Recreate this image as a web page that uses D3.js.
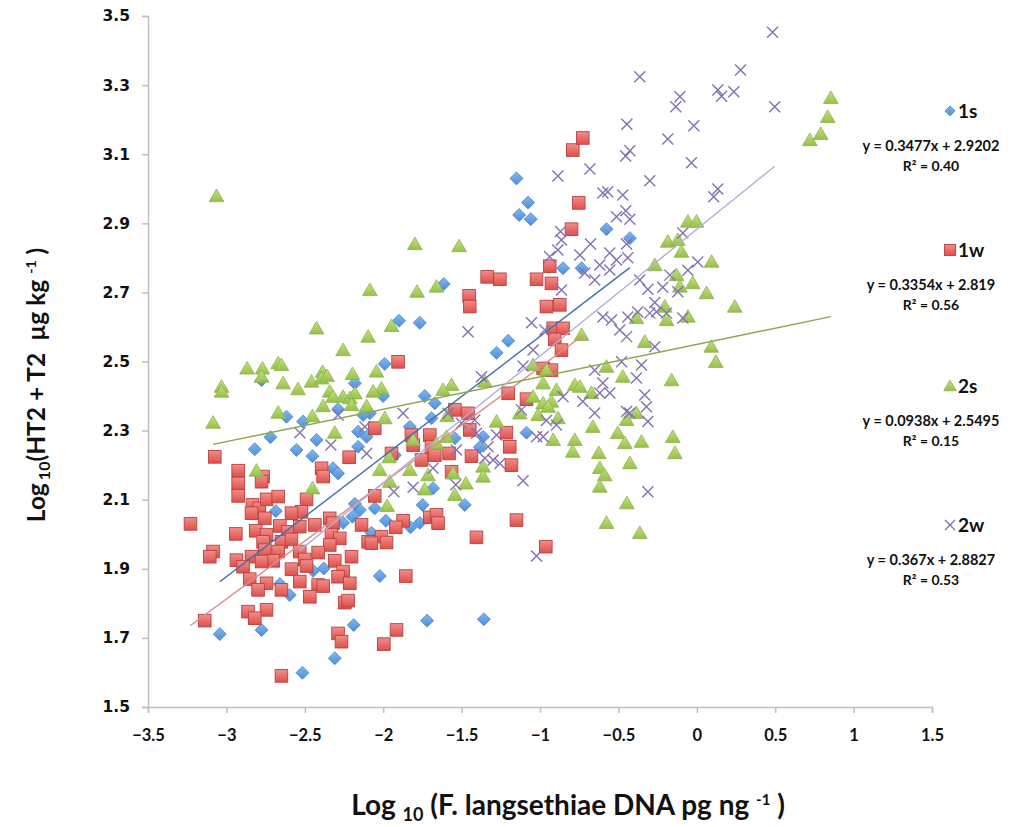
<!DOCTYPE html>
<html><head><meta charset="utf-8">
<script src="https://cdn.jsdelivr.net/npm/d3@7"></script>
<style>body{margin:0;background:#fff}svg{display:block}</style>
</head><body>
<script>
// ---------- DATA ----------
const xTicks = [-3.5,-3,-2.5,-2,-1.5,-1,-0.5,0,0.5,1,1.5];
const yTicks = [1.5,1.7,1.9,2.1,2.3,2.5,2.7,2.9,3.1,3.3,3.5];
const seriesNames = ["1s","1w","2s","2w"];
const equations = ["y = 0.3477x + 2.9202","y = 0.3354x + 2.819","y = 0.0938x + 2.5495","y = 0.367x + 2.8827"];
const rSquared = ["R² = 0.40","R² = 0.56","R² = 0.15","R² = 0.53"];
const slopes = [0.3477,0.3354,0.0938,0.367];
const intercepts = [2.9202,2.819,2.5495,2.8827];

const data1s = [[-1.150,3.030],[-1.076,2.960],[-1.133,2.924],[-1.059,2.912],[-0.576,2.883],[-0.427,2.857],[-0.853,2.770],[-0.735,2.770],[-1.614,2.724],[-1.899,2.618],[-1.767,2.612],[-1.203,2.560],[-1.277,2.525],[-1.990,2.493],[-2.181,2.437],[-2.776,2.446],[-1.735,2.400],[-2.001,2.400],[-1.671,2.379],[-2.288,2.362],[-2.085,2.350],[-2.617,2.340],[-2.128,2.345],[-1.692,2.336],[-2.511,2.326],[-1.830,2.311],[-2.160,2.297],[-1.086,2.294],[-2.719,2.281],[-2.106,2.282],[-1.543,2.278],[-2.425,2.273],[-1.363,2.282],[-2.160,2.253],[-1.384,2.252],[-2.819,2.246],[-2.553,2.244],[-2.451,2.226],[-1.926,2.229],[-2.320,2.191],[-2.288,2.176],[-1.682,2.133],[-1.749,2.085],[-1.480,2.085],[-2.054,2.075],[-2.149,2.070],[-2.685,2.067],[-2.181,2.088],[-2.196,2.051],[-2.256,2.033],[-1.983,2.039],[-1.767,2.033],[-1.826,2.020],[-2.075,2.004],[-2.447,1.894],[-2.379,1.901],[-2.659,1.856],[-2.596,1.824],[-2.022,1.879],[-2.776,1.723],[-3.042,1.711],[-2.188,1.737],[-2.309,1.641],[-2.515,1.599],[-1.720,1.750],[-1.358,1.754]];

const data1w = [[-0.791,3.112],[-0.727,3.147],[-0.753,2.959],[-0.799,2.883],[-0.938,2.776],[-1.337,2.745],[-1.256,2.738],[-1.022,2.738],[-0.927,2.726],[-1.452,2.690],[-1.448,2.659],[-0.959,2.659],[-0.874,2.664],[-0.916,2.596],[-0.853,2.596],[-0.906,2.564],[-0.863,2.533],[-1.905,2.499],[-0.980,2.480],[-0.927,2.475],[-1.203,2.408],[-1.086,2.391],[-1.543,2.360],[-1.459,2.350],[-1.448,2.302],[-2.054,2.307],[-1.820,2.287],[-1.703,2.287],[-1.214,2.294],[-1.193,2.253],[-1.809,2.258],[-1.692,2.253],[-1.756,2.215],[-1.671,2.229],[-1.580,2.234],[-1.437,2.226],[-1.182,2.200],[-1.564,2.181],[-1.947,2.234],[-3.074,2.224],[-2.925,2.184],[-2.766,2.167],[-2.393,2.191],[-2.217,2.223],[-2.383,2.167],[-2.925,2.147],[-2.776,2.152],[-2.925,2.111],[-2.834,2.085],[-2.791,2.075],[-2.744,2.101],[-2.670,2.109],[-2.840,2.061],[-2.755,2.046],[-2.489,2.101],[-2.521,2.065],[-2.585,2.061],[-3.229,2.030],[-2.940,2.001],[-2.813,2.010],[-2.744,1.998],[-2.659,2.024],[-2.607,2.007],[-2.532,2.022],[-2.436,2.027],[-2.341,2.046],[-2.320,2.032],[-2.138,2.027],[-2.096,1.978],[-2.330,1.998],[-2.277,1.988],[-2.341,1.969],[-2.649,1.978],[-2.585,1.985],[-2.766,1.978],[-2.755,1.954],[-2.670,1.950],[-2.840,1.935],[-2.936,1.925],[-3.085,1.950],[-3.106,1.935],[-2.532,1.950],[-2.500,1.927],[-2.415,1.947],[-2.202,1.935],[-2.309,1.923],[-2.702,1.923],[-2.776,1.921],[-2.894,1.906],[-2.585,1.899],[-2.489,1.908],[-2.256,1.892],[-2.288,1.877],[-2.851,1.870],[-2.744,1.858],[-2.798,1.839],[-2.532,1.863],[-2.649,1.839],[-2.415,1.853],[-2.383,1.850],[-2.213,1.858],[-2.468,1.819],[-2.245,1.802],[-2.224,1.808],[-2.862,1.776],[-2.744,1.781],[-2.819,1.757],[-3.138,1.750],[-2.288,1.713],[-2.266,1.689],[-2.649,1.590],[-2.054,2.111],[-1.873,2.039],[-1.920,2.020],[-2.011,1.993],[-1.979,1.976],[-2.075,1.974],[-1.703,2.049],[-1.660,2.056],[-1.650,2.032],[-1.405,1.991],[-1.150,2.041],[-0.963,1.964],[-1.856,1.879],[-1.915,1.723],[-1.996,1.682]];

const data2s = [[-3.063,2.979],[-1.798,2.840],[-1.516,2.834],[-0.057,2.905],[-0.002,2.905],[-0.185,2.847],[-0.121,2.852],[0.721,3.141],[0.790,3.159],[0.835,3.208],[0.855,3.263],[-2.085,2.707],[-2.425,2.596],[-2.096,2.572],[-2.256,2.533],[-2.868,2.480],[-2.770,2.480],[-2.670,2.495],[-2.649,2.490],[-2.776,2.456],[-3.031,2.427],[-3.031,2.413],[-2.638,2.437],[-2.543,2.420],[-2.457,2.442],[-2.387,2.470],[-2.394,2.451],[-2.358,2.458],[-2.196,2.464],[-2.341,2.413],[-2.320,2.398],[-2.256,2.398],[-2.213,2.394],[-2.181,2.408],[-2.383,2.371],[-2.202,2.374],[-2.106,2.371],[-2.670,2.352],[-2.451,2.342],[-3.085,2.323],[-2.309,2.294],[-2.808,2.184],[-2.451,2.133],[-1.784,2.702],[-1.660,2.717],[-1.947,2.603],[-2.043,2.471],[-1.564,2.432],[-1.618,2.418],[-2.011,2.422],[-2.064,2.413],[-1.990,2.336],[-1.592,2.342],[-1.277,2.326],[-1.352,2.442],[-0.959,2.475],[-1.044,2.490],[-0.980,2.437],[-0.895,2.418],[-1.044,2.398],[-0.980,2.379],[-0.927,2.384],[-0.948,2.369],[-1.012,2.345],[-1.129,2.350],[-0.885,2.336],[-0.916,2.273],[-1.809,2.273],[-1.660,2.263],[-1.596,2.282],[-1.962,2.223],[-1.363,2.196],[-1.830,2.186],[-2.022,2.186],[-1.554,2.176],[-1.363,2.167],[-1.714,2.171],[-1.975,2.082],[-1.735,2.130],[-1.543,2.114],[-1.473,2.147],[-1.958,2.152],[-0.098,2.818],[0.094,2.789],[-0.268,2.779],[-0.129,2.750],[-0.108,2.717],[-0.026,2.727],[0.062,2.698],[0.242,2.659],[-0.204,2.659],[-0.385,2.626],[-0.193,2.620],[-0.057,2.630],[-0.332,2.557],[0.092,2.543],[0.121,2.499],[-0.735,2.577],[-0.576,2.485],[-0.472,2.456],[-0.161,2.446],[-0.778,2.432],[-0.746,2.427],[-0.672,2.409],[-0.385,2.351],[-0.448,2.331],[-0.663,2.311],[-0.778,2.273],[-0.504,2.293],[-0.459,2.264],[-0.353,2.268],[-0.153,2.282],[-0.625,2.235],[-0.791,2.239],[-0.140,2.235],[-0.427,2.206],[-0.619,2.192],[-0.587,2.171],[-0.619,2.138],[-0.446,2.090],[-0.576,2.033],[-0.364,2.004]];

const data2w = [[0.483,3.453],[0.279,3.344],[-0.364,3.324],[-0.108,3.266],[-0.134,3.237],[0.134,3.286],[0.158,3.268],[0.236,3.281],[0.497,3.237],[-0.446,3.187],[-0.019,3.182],[-0.185,3.144],[-0.427,3.110],[-0.453,3.095],[-0.034,3.075],[-0.682,3.057],[-0.886,3.037],[-0.300,3.023],[0.108,2.977],[0.134,2.999],[-0.599,2.988],[-0.568,2.991],[-0.472,2.982],[-0.512,2.919],[-0.453,2.936],[-0.427,2.912],[-0.678,2.840],[-0.448,2.840],[-0.089,2.872],[-0.869,2.876],[-0.863,2.852],[-0.746,2.808],[-0.555,2.814],[-0.512,2.794],[-0.440,2.800],[-0.619,2.779],[-0.714,2.756],[-0.651,2.736],[-0.555,2.765],[-0.599,2.629],[-0.544,2.620],[-0.491,2.591],[-0.448,2.572],[-0.440,2.629],[-0.376,2.643],[-0.268,2.671],[-0.257,2.644],[-0.300,2.640],[-0.193,2.640],[-0.089,2.626],[-0.364,2.736],[-0.312,2.709],[-0.217,2.715],[-0.172,2.750],[-0.057,2.764],[0.006,2.788],[-0.121,2.702],[-0.268,2.543],[-0.480,2.499],[-0.353,2.490],[-0.651,2.475],[-0.385,2.452],[-0.599,2.438],[-0.555,2.409],[-0.619,2.409],[-0.727,2.384],[-0.332,2.403],[-0.651,2.351],[-0.448,2.355],[-0.427,2.351],[-0.321,2.369],[-0.312,2.326],[-0.312,2.123],[-1.459,2.586],[-1.054,2.612],[-0.969,2.591],[-1.044,2.533],[-1.108,2.487],[-0.938,2.803],[-0.863,2.707],[-0.886,2.823],[-1.373,2.456],[-1.873,2.350],[-1.118,2.360],[-0.959,2.329],[-0.853,2.398],[-1.277,2.287],[-1.022,2.282],[-0.980,2.282],[-0.895,2.316],[-1.501,2.321],[-1.416,2.331],[-1.586,2.350],[-1.331,2.253],[-1.352,2.220],[-1.299,2.215],[-1.256,2.205],[-1.533,2.244],[-1.682,2.191],[-1.405,2.292],[-2.532,2.294],[-2.334,2.258],[-2.288,2.345],[-2.117,2.311],[-2.106,2.234],[-1.932,2.123],[-1.809,2.136],[-1.537,2.143],[-1.022,1.937],[-1.108,2.155]];

// ---------- CHART ----------
const W = 1021, H = 827;
const svg = d3.select("body").append("svg").attr("width", W).attr("height", H);
const x = d3.scaleLinear().domain([-3.5, 1.5]).range([148, 932]);
const y = d3.scaleLinear().domain([1.5, 3.5]).range([707, 16]);

const defs = svg.append("defs");
function grad(id, c1, c2){
  const g = defs.append("linearGradient").attr("id", id).attr("x1",0).attr("y1",0).attr("x2",0).attr("y2",1);
  g.append("stop").attr("offset","0%").attr("stop-color",c1);
  g.append("stop").attr("offset","100%").attr("stop-color",c2);
}
grad("gBlue","#80b8f0","#4f8dd4");
grad("gRed","#f28e8a","#dd504c");
grad("gGreen","#c2e27e","#96c14b");

const axisColor = "#c0c0c0";
// x axis
const xAxis = svg.append("g").attr("transform","translate(0,707)")
  .call(d3.axisBottom(x).tickValues(xTicks).tickSize(6).tickFormat(d3.format("")));
xAxis.select(".domain").attr("stroke",axisColor).attr("stroke-width",1.5);
xAxis.selectAll(".tick line").attr("stroke",axisColor).attr("stroke-width",1.5);
xAxis.selectAll(".tick text").attr("y",0).attr("dy","34px")
  .style("font-family","Lato, 'Open Sans', sans-serif").style("font-weight","bold").style("font-size","16.5px").attr("fill","#111");
// y axis
const yAxis = svg.append("g").attr("transform","translate(148,0)")
  .call(d3.axisLeft(y).tickValues(yTicks).tickSize(6).tickFormat(d3.format(".1f")));
yAxis.select(".domain").attr("stroke",axisColor).attr("stroke-width",1.5);
yAxis.selectAll(".tick line").attr("stroke",axisColor).attr("stroke-width",1.5);
yAxis.selectAll(".tick text").attr("x",-18)
  .style("font-family","'DejaVu Sans', Verdana, sans-serif").style("font-weight","bold").style("font-size","15.5px").attr("fill","#111");

// markers
const plot = svg.append("g");
function diamond(g, cx, cy, s){
  g.append("path").attr("d",`M${cx},${cy-s}L${cx+s},${cy}L${cx},${cy+s}L${cx-s},${cy}Z`)
    .attr("fill","url(#gBlue)").attr("stroke","#4a84c8").attr("stroke-width",0.8);
}
function square(g, cx, cy, s){
  g.append("rect").attr("x",cx-s).attr("y",cy-s).attr("width",2*s).attr("height",2*s)
    .attr("fill","url(#gRed)").attr("stroke","#b9403d").attr("stroke-width",0.9);
}
function triangle(g, cx, cy, s){
  g.append("path").attr("d",`M${cx},${cy-s}L${cx+s*1.05},${cy+s*0.8}L${cx-s*1.05},${cy+s*0.8}Z`)
    .attr("fill","url(#gGreen)").attr("stroke","#8db44a").attr("stroke-width",0.8);
}
function cross(g, cx, cy, s){
  g.append("path").attr("d",`M${cx-s},${cy-s}L${cx+s},${cy+s}M${cx-s},${cy+s}L${cx+s},${cy-s}`)
    .attr("stroke","#8470b4").attr("stroke-width",1.4).attr("fill","none");
}
const g1 = plot.append("g"); data1s.forEach(d => diamond(g1, x(d[0]), y(d[1]), 6.5));
const g2 = plot.append("g"); data1w.forEach(d => square(g2, x(d[0]), y(d[1]), 6.3));
const g3 = plot.append("g"); data2s.forEach(d => triangle(g3, x(d[0]), y(d[1]), 7));
const g4 = plot.append("g"); data2w.forEach(d => cross(g4, x(d[0]), y(d[1]), 5.5));

// trend lines
const allData = [data1s, data1w, data2s, data2w];
const lineColors = ["#3f6fae","#e08a86","#8fa64f","#b9acd6"];
allData.forEach((ds, i) => {
  const ext = d3.extent(ds, d => d[0]);
  svg.append("line")
    .attr("x1", x(ext[0])).attr("y1", y(slopes[i]*ext[0] + intercepts[i]))
    .attr("x2", x(ext[1])).attr("y2", y(slopes[i]*ext[1] + intercepts[i]))
    .attr("stroke", lineColors[i]).attr("stroke-width", 1.4);
});

// legend
const legY = [111, 250, 386, 525];
const leg = svg.append("g").style("font-family","Lato, 'Open Sans', sans-serif").style("font-weight","bold");
legY.forEach((ly, i) => {
  const g = leg.append("g");
  if (i===0) diamond(g, 950, ly, 5);
  if (i===1) square(g, 950, ly, 5.5);
  if (i===2) triangle(g, 950, ly, 6);
  if (i===3) cross(g, 950, ly, 5);
  g.append("text").attr("x", 958).attr("y", ly+7).style("font-size","19px").attr("fill","#111").text(seriesNames[i]);
  g.append("text").attr("x", 931).attr("y", ly+40).attr("text-anchor","middle").style("font-size","14.5px").attr("fill","#111").text(equations[i]);
  g.append("text").attr("x", 931).attr("y", ly+60).attr("text-anchor","middle").style("font-size","14px").attr("fill","#111").text(rSquared[i]);
});

// axis titles
const yt = svg.append("text").attr("transform","translate(45,385) rotate(-90)").attr("text-anchor","middle")
  .style("font-family","Lato, 'Open Sans', sans-serif").style("font-weight","bold").style("font-size","24.5px").attr("fill","#111");
yt.append("tspan").text("Log\u2009");
yt.append("tspan").attr("dy",5).style("font-size","16px").text("10");
yt.append("tspan").attr("dy",-5).text("(HT2 + T2\u00a0\u00a0µg kg ");
yt.append("tspan").attr("dy",-9).style("font-size","14px").text("-1");
yt.append("tspan").attr("dy",9).text(" )");

const xt = svg.append("text").attr("x",568).attr("y",815).attr("text-anchor","middle")
  .style("font-family","Lato, 'Open Sans', sans-serif").style("font-weight","bold").style("font-size","28px").attr("fill","#111");
xt.append("tspan").text("Log ");
xt.append("tspan").attr("dy",6).style("font-size","18px").text("10");
xt.append("tspan").attr("dy",-6).text(" (F. langsethiae DNA pg ng ");
xt.append("tspan").attr("dy",-10).style("font-size","15px").text("-1");
xt.append("tspan").attr("dy",10).text(" )");
</script>
</body></html>
